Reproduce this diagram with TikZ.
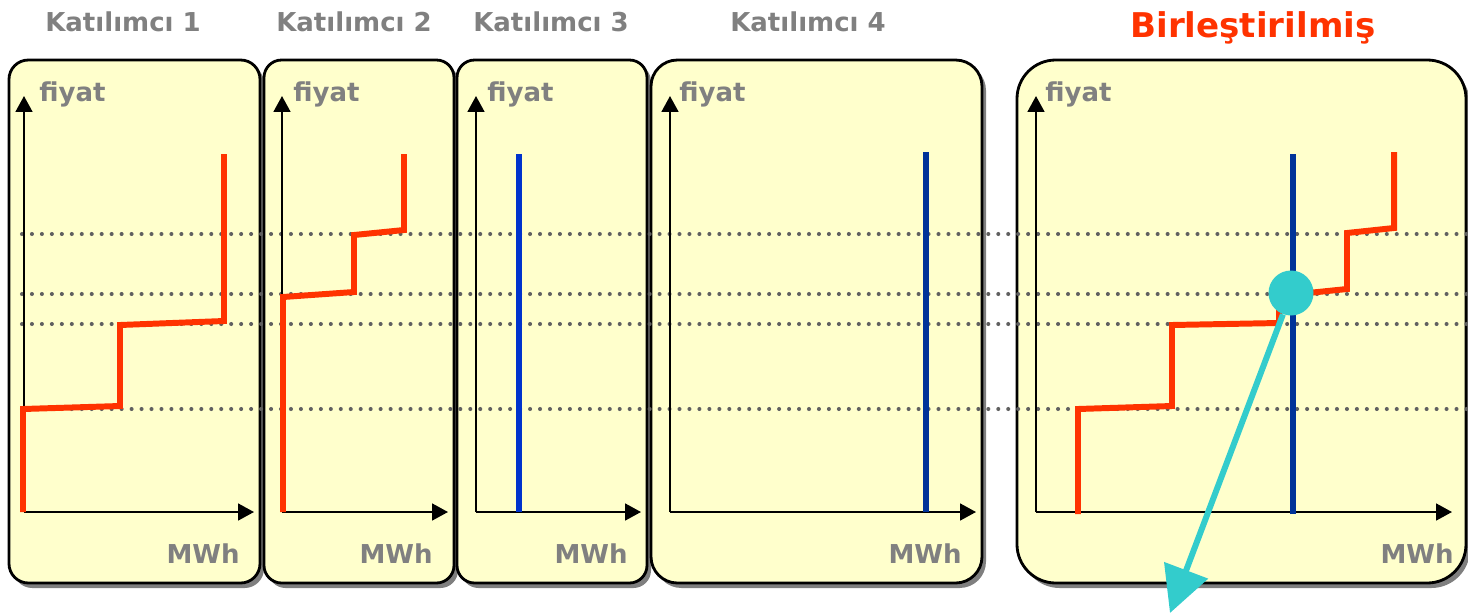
\documentclass[tikz,border=0pt]{standalone}
\usepackage{fontspec}
\setmainfont{DejaVu Sans}
\usetikzlibrary{arrows.meta}
\definecolor{panelfill}{HTML}{FFFFCC}
\definecolor{txtgray}{HTML}{808080}
\definecolor{redline}{HTML}{FF3300}
\definecolor{blueA}{HTML}{0033CC}
\definecolor{blueB}{HTML}{003399}
\definecolor{cyanc}{HTML}{33CCCC}
\definecolor{dotgray}{HTML}{606060}
\definecolor{shadowgray}{HTML}{7F7F7F}
\begin{document}
\begin{tikzpicture}[x=0.02cm,y=-0.02cm,
  panel/.style={draw=black,line width=1.6pt,fill=panelfill},
  shadowbox/.style={fill=shadowgray},
  title/.style={font=\bfseries\fontsize{14.8}{16}\selectfont,text=txtgray,inner sep=0pt,anchor=base},
  bigtitle/.style={font=\bfseries\fontsize{19.4}{22}\selectfont,text=redline,inner sep=0pt,anchor=base},
  ylab/.style={font=\bfseries\fontsize{14.8}{16}\selectfont,text=txtgray,inner sep=0pt,anchor=base west},
  xlab/.style={font=\bfseries\fontsize{14.8}{16}\selectfont,text=txtgray,inner sep=0pt,anchor=base east},
  axisline/.style={line width=1.2pt,-{Triangle[length=9pt,width=9.5pt]}},
  dotline/.style={dotgray,line width=2.3pt,line cap=round,dash pattern=on 0pt off 5.67pt},
  redcurve/.style={redline,line width=3.4pt,line join=miter},
  bluecurveA/.style={blueA,line width=3.4pt},
  bluecurveB/.style={blueB,line width=3.4pt},
  eqpoint/.style={circle,fill=cyanc,minimum size=45*0.02cm,inner sep=0pt},
  cyanarrow/.style={cyanc,line width=3.4pt,-{Triangle[length=26pt,width=26pt]}}
]
\useasboundingbox (0,0) rectangle (1468,613);

% shadows
\fill[shadowgray,rounded corners=11pt] (13,64) rectangle (264,588);
\fill[shadowgray,rounded corners=10pt] (268,64) rectangle (458,588);
\fill[shadowgray,rounded corners=10pt] (461,64) rectangle (651,588);
\fill[shadowgray,rounded corners=15pt] (655,64) rectangle (986,588);
\fill[shadowgray,rounded corners=22pt] (1021,65) rectangle (1470,588);

% panels
\draw[panel,rounded corners=11pt] (9,60) rectangle (260,583);
\draw[panel,rounded corners=10pt] (264,60) rectangle (454,583);
\draw[panel,rounded corners=10pt] (457,60) rectangle (647,583);
\draw[panel,rounded corners=15pt] (651,60) rectangle (982,583);
\draw[panel,rounded corners=22pt] (1017,60) rectangle (1466,583);

% titles
\node[title] (t1) at (123,31) {Katılımcı 1};
\node[title] (t2) at (354,31) {Katılımcı 2};
\node[title] (t3) at (551,31) {Katılımcı 3};
\node[title] (t4) at (808,31) {Katılımcı 4};
\node[bigtitle] (t5) at (1253,37) {Birleştirilmiş};

% dotted reference lines
\draw[dotline] (22,234) -- (1468,234);
\draw[dotline] (22,294) -- (1468,294);
\draw[dotline] (22,324) -- (1468,324);
\draw[dotline] (22,409) -- (1468,409);

% axes
\coordinate (o1) at (24,512);   \coordinate (y1) at (24,96);   \coordinate (x1) at (254,512);
\coordinate (o2) at (282,512);  \coordinate (y2) at (282,96);  \coordinate (x2) at (448,512);
\coordinate (o3) at (476,512);  \coordinate (y3) at (476,96);  \coordinate (x3) at (641,512);
\coordinate (o4) at (670,512);  \coordinate (y4) at (670,96);  \coordinate (x4) at (976,512);
\coordinate (o5) at (1036,512); \coordinate (y5) at (1036,96); \coordinate (x5) at (1452,512);
\foreach \i in {1,...,5} {
  \draw[axisline] (o\i) -- (y\i);
  \draw[axisline] (o\i) -- (x\i);
}

% axis labels
\node[ylab] (f1) at (39,101) {fiyat};
\node[ylab] (f2) at (293,101) {fiyat};
\node[ylab] (f3) at (487,101) {fiyat};
\node[ylab] (f4) at (679,101) {fiyat};
\node[ylab] (f5) at (1045,101) {fiyat};
\node[xlab] (m1) at (240,563) {MWh};
\node[xlab] (m2) at (433,563) {MWh};
\node[xlab] (m3) at (628,563) {MWh};
\node[xlab] (m4) at (962,563) {MWh};
\node[xlab] (m5) at (1454,563) {MWh};

% participant curves
\draw[redcurve] (23,512) -- (23,409) -- (120,406) -- (120,325) -- (224,321) -- (224,154);
\draw[redcurve] (283,512) -- (283,297) -- (354,292) -- (354,235) -- (404,230) -- (404,154);
\draw[bluecurveA] (519,512) -- (519,154);
\draw[bluecurveB] (926,512) -- (926,152);

% combined
\draw[redcurve] (1078,514) -- (1078,409) -- (1172,406) -- (1172,325) -- (1279,323) -- (1279,296) -- (1347,289) -- (1347,233) -- (1394,228) -- (1394,152);
\draw[bluecurveB] (1293,514) -- (1293,154);
\node[eqpoint] (eq) at (1291,293) {};
\coordinate (tip) at (1170,613);
\draw[cyanarrow] (eq) -- (tip);
\end{tikzpicture}
\end{document}
